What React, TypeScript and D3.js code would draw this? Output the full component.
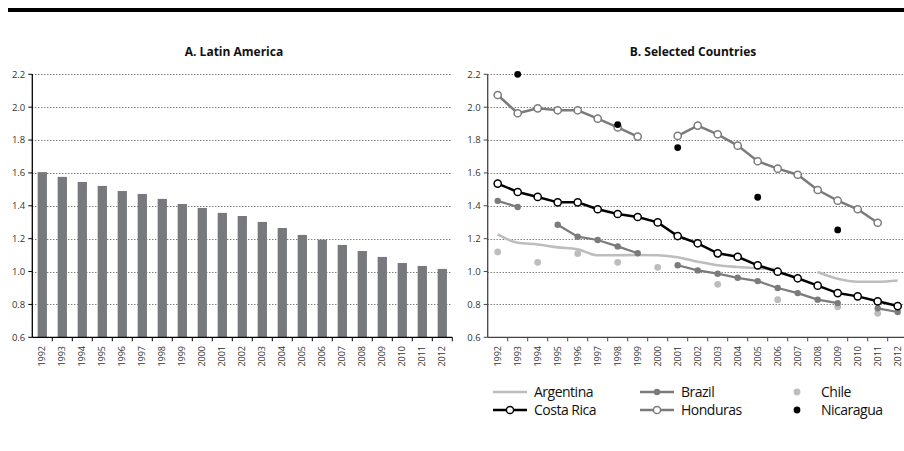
import React from "react";
import * as d3 from "d3";

const years = ["1992","1993","1994","1995","1996","1997","1998","1999","2000","2001","2002","2003","2004","2005","2006","2007","2008","2009","2010","2011","2012"];
const yTicks = [0.6, 0.8, 1.0, 1.2, 1.4, 1.6, 1.8, 2.0, 2.2];

const latinAmerica = [1.605, 1.576, 1.545, 1.521, 1.49, 1.472, 1.442, 1.411, 1.387, 1.357, 1.338, 1.302, 1.265, 1.223, 1.194, 1.162, 1.125, 1.089, 1.052, 1.034, 1.016];

const argentina = [1.226, 1.175, 1.165, 1.147, 1.135, 1.099, 1.099, 1.101, 1.099, 1.087, 1.06, 1.038, 1.028, 1.02, 1.014, null, 0.997, 0.956, 0.938, 0.938, 0.946];
const brazil = [1.43, 1.393, null, 1.285, 1.212, 1.192, 1.153, 1.111, null, 1.038, 1.007, 0.987, 0.962, 0.942, 0.9, 0.869, 0.829, 0.808, null, 0.776, 0.754];
const chile = [1.119, null, 1.056, null, 1.109, null, 1.056, null, 1.026, null, null, 0.922, null, null, 0.829, null, null, 0.786, null, 0.746, null];
const costaRica = [1.535, 1.484, 1.454, 1.421, 1.421, 1.379, 1.35, 1.332, 1.299, 1.216, 1.172, 1.111, 1.09, 1.038, 0.999, 0.959, 0.914, 0.869, 0.849, 0.819, 0.79];
const honduras = [2.074, 1.963, 1.993, 1.981, 1.981, 1.93, 1.877, 1.821, null, 1.825, 1.888, 1.835, 1.766, 1.671, 1.626, 1.589, 1.496, 1.431, 1.379, 1.297, null];
const nicaragua = [null, 2.2, null, null, null, null, 1.894, null, null, 1.754, null, null, null, 1.452, null, null, null, 1.253, null, null, null];

const FONT = "'Open Sans', sans-serif";
const W = 904;
const H = 451;

const yScale = d3.scaleLinear().domain([0.6, 2.2]).range([337.3, 74.3]);

function Panel({ x0, x1, axisColor, title, titleX, children, xScale }: any) {
  const ticks = yTicks;
  const bw = xScale.bandwidth();
  const step = xScale.step();
  return (
    <g>
      <text x={titleX} y={56} textAnchor="middle" fontFamily={FONT} fontWeight="bold" fontSize={12} fill="#111">{title}</text>
      {ticks.filter(t => t > 0.6).map(t => (
        <line key={"g" + t} x1={x0} x2={x1} y1={Math.round(yScale(t)) + 0.5} y2={Math.round(yScale(t)) + 0.5} stroke="#444" strokeWidth={1} strokeDasharray="1,2" />
      ))}
      {children}
      <line x1={x0} x2={x0} y1={yScale(2.2)} y2={yScale(0.6)} stroke={axisColor} strokeWidth={1.3} />
      <line x1={x0} x2={x1} y1={yScale(0.6)} y2={yScale(0.6)} stroke={axisColor} strokeWidth={1.3} />
      {ticks.map(t => (
        <g key={"t" + t}>
          <line x1={x0 - 4} x2={x0} y1={yScale(t)} y2={yScale(t)} stroke={axisColor} strokeWidth={1} />
          <text x={x0 - 7} y={yScale(t)} dy="0.35em" textAnchor="end" fontFamily={FONT} fontSize={9.5} fill="#333">{t.toFixed(1)}</text>
        </g>
      ))}
      {years.map((yr) => {
        const bx = xScale(yr) - (step - bw) / 2;
        return <line key={"xt" + yr} x1={bx + step} x2={bx + step} y1={yScale(0.6)} y2={yScale(0.6) + 4} stroke={axisColor} strokeWidth={1} />;
      })}
      {years.map(yr => {
        const cx = xScale(yr) + bw / 2;
        return (
          <text key={"xl" + yr} transform={`translate(${cx},${346}) rotate(-90)`} textAnchor="end" dy="0.35em" fontFamily={FONT} fontSize={9} fill="#333">{yr}</text>
        );
      })}
    </g>
  );
}

export default function App() {
  const xLeft = d3.scaleBand().domain(years).range([32.3, 452.3]).paddingInner(0.535).paddingOuter(0.2675);
  const xRight = d3.scaleBand().domain(years).range([487.7, 907.7]).paddingInner(0.5).paddingOuter(0.25);
  const cxR = (i: number) => (xRight(years[i]) as number) + xRight.bandwidth() / 2;

  const mkLine = d3.line<number | null>()
    .defined(d => d !== null)
    .x((_, i) => cxR(i))
    .y(d => yScale(d as number));

  const argLine = d3.line<number | null>()
    .defined(d => d !== null)
    .x((_, i) => cxR(i))
    .y(d => yScale(d as number))
    .curve(d3.curveMonotoneX);

  const pts = (arr: (number | null)[]) => arr.map((v, i) => ({ v, i })).filter(d => d.v !== null);

  const gray = "#7b7b7b";
  const light = "#bdbdbd";

  const legendRows = [
    [
      { label: "Argentina", kind: "line", color: light },
      { label: "Brazil", kind: "lineDot", color: gray },
      { label: "Chile", kind: "dot", color: light },
    ],
    [
      { label: "Costa Rica", kind: "lineOpen", color: "#000" },
      { label: "Honduras", kind: "lineOpen", color: gray },
      { label: "Nicaragua", kind: "dot", color: "#000" },
    ],
  ];
  const legCols = [493, 640, 797];
  const legY = [392, 410];

  return (
    <div style={{ position: "fixed", left: 0, top: 0 }}>
      <svg width={W} height={H} style={{ display: "block", background: "#fff" }}>
        <rect x={8} y={8} width={W - 8} height={4} fill="#000" />
        <Panel x0={32.3} x1={452.3} axisColor="#000" title="A. Latin America" titleX={234} xScale={xLeft}>
          {latinAmerica.map((v, i) => (
            <rect key={"b" + i} x={xLeft(years[i])} y={yScale(v)} width={xLeft.bandwidth()} height={yScale(0.6) - yScale(v)} fill="#77797c" />
          ))}
        </Panel>
        <Panel x0={487.7} x1={904} axisColor="#444" title="B. Selected Countries" titleX={693} xScale={xRight}>
          <path d={argLine(argentina) || ""} fill="none" stroke={light} strokeWidth={2.6} />
          {pts(chile).map(d => (
            <circle key={"c" + d.i} cx={cxR(d.i)} cy={yScale(d.v as number)} r={3.4} fill={light} />
          ))}
          <path d={mkLine(brazil) || ""} fill="none" stroke={gray} strokeWidth={2.2} />
          {pts(brazil).map(d => (
            <circle key={"br" + d.i} cx={cxR(d.i)} cy={yScale(d.v as number)} r={3.2} fill={gray} />
          ))}
          <path d={mkLine(honduras) || ""} fill="none" stroke={gray} strokeWidth={2.5} />
          {pts(honduras).map(d => (
            <circle key={"h" + d.i} cx={cxR(d.i)} cy={yScale(d.v as number)} r={3.6} fill="#fff" stroke={gray} strokeWidth={1.5} />
          ))}
          <path d={mkLine(costaRica) || ""} fill="none" stroke="#000" strokeWidth={2.5} />
          {pts(costaRica).map(d => (
            <circle key={"cr" + d.i} cx={cxR(d.i)} cy={yScale(d.v as number)} r={3.6} fill="#fff" stroke="#000" strokeWidth={1.5} />
          ))}
          {pts(nicaragua).map(d => (
            <circle key={"n" + d.i} cx={cxR(d.i)} cy={yScale(d.v as number)} r={3.4} fill="#000" />
          ))}
        </Panel>
        {legendRows.map((row, ri) =>
          row.map((it, ci) => {
            const x = legCols[ci];
            const y = legY[ri];
            const tx = ci === 2 ? 821 : x + 41;
            return (
              <g key={it.label}>
                {(it.kind === "line" || it.kind === "lineDot" || it.kind === "lineOpen") && (
                  <line x1={x} x2={x + 34} y1={y} y2={y} stroke={it.color} strokeWidth={2.5} />
                )}
                {it.kind === "lineDot" && <circle cx={x + 17} cy={y} r={3.2} fill={it.color} />}
                {it.kind === "lineOpen" && <circle cx={x + 17} cy={y} r={3.6} fill="#fff" stroke={it.color} strokeWidth={1.5} />}
                {it.kind === "dot" && <circle cx={x} cy={y} r={3.4} fill={it.color} />}
                <text x={tx} y={y} dy="0.35em" fontFamily={FONT} fontSize={14} letterSpacing={-0.5} fill="#111">{it.label}</text>
              </g>
            );
          })
        )}
      </svg>
    </div>
  );
}
